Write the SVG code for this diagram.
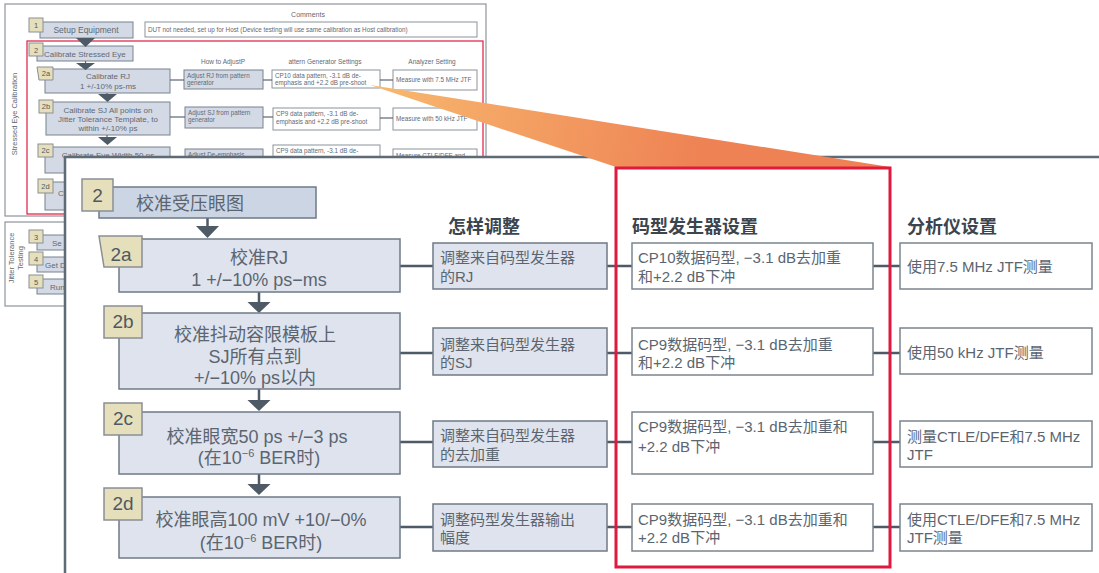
<svg xmlns="http://www.w3.org/2000/svg" width="1099" height="573" viewBox="0 0 1099 573">
<defs>
<style>
text{font-family:"Liberation Sans","Noto Sans CJK SC",sans-serif}
.tf{fill:#fff;stroke:#8e959c;stroke-width:1.2}
.tb{fill:#d3dae6;stroke:#77828d;stroke-width:1}
.tw{fill:#fff;stroke:#8a939c;stroke-width:1}
.tbd{fill:#e6dfbb;stroke:#8a8f95;stroke-width:1}
.tt{fill:#5f6973;font-size:8px}
.ts{fill:#5f6973;font-size:6.3px}
.tn{fill:#4f5963;font-size:7.5px}
.tl{stroke:#5a6671;stroke-width:1.2}
.ta{fill:#4e5a66}
.box{fill:#dfe3ed;stroke:#6f7a86;stroke-width:1.5}
.box2{fill:#ccd5e4;stroke:#6f7a86;stroke-width:1.5}
.badge{fill:#e6dfbb;stroke:#8a8f95;stroke-width:1.5}
.wbox{fill:#fff;stroke:#7b858f;stroke-width:1.5}
.mt{fill:#5b6570;font-size:18px}
.st{fill:#5b6570;font-size:15px}
.cj{font-family:"Noto Sans CJK JP","Noto Sans CJK SC",sans-serif;fill:#5b6570}
.bt{fill:#4f5963;font-size:19px}
.hdr{fill:#3c444d;font-size:18px;font-weight:bold}
.conn{stroke:#4e5a66;stroke-width:2.5;fill:none}
.arr{fill:#4e5a66}
</style>
<linearGradient id="og" gradientUnits="userSpaceOnUse" x1="370" y1="85" x2="700" y2="168">
<stop offset="0" stop-color="#f8b96f"/>
<stop offset="1" stop-color="#ee8254"/>
</linearGradient>
</defs>
<rect width="1099" height="573" fill="#fff"/>

<g id="thumbnail">
<rect class="tf" x="5" y="4" width="481" height="212"/>
<rect class="tf" x="5" y="222" width="200" height="84"/>
<text class="tt" x="308" y="17" text-anchor="middle" style="font-size:7px">Comments</text>
<text class="tt" transform="translate(17,114) rotate(-90)" text-anchor="middle" style="font-size:7.5px">Stressed Eye Calibration</text>
<text class="tt" transform="translate(14,258) rotate(-90)" text-anchor="middle" style="font-size:7.5px">Jitter Tolerance</text>
<text class="tt" transform="translate(23,258) rotate(-90)" text-anchor="middle" style="font-size:7.5px">Testing</text>
<rect x="27" y="41" width="456" height="173" fill="none" stroke="#e0193f" stroke-width="1.2"/>

<g id="t1"><rect class="tb" x="40" y="22" width="93" height="16"/><rect class="tbd" x="29" y="18" width="14" height="14"/><text class="tn" x="36" y="28" text-anchor="middle">1</text><text class="tt" x="86" y="33" text-anchor="middle" style="font-size:8.5px">Setup Equipment</text></g>
<g id="tc1"><rect class="tw" x="145" y="22" width="332" height="15"/><text class="ts" x="148" y="32">DUT not needed, set up for Host (Device testing will use same calibration as Host calibration)</text></g>
<g id="t2"><rect class="tb" x="37" y="46" width="96" height="15"/><rect class="tbd" x="29" y="43" width="14" height="13"/><text class="tn" x="36" y="52.5" text-anchor="middle">2</text><text class="tt" x="44" y="57">Calibrate Stressed Eye</text></g>
<text class="tt" x="223" y="64" text-anchor="middle" style="font-size:6.5px">How to AdjustP</text>
<text class="tt" x="325" y="64" text-anchor="middle" style="font-size:6.5px">attern Generator Settings</text>
<text class="tt" x="432" y="64" text-anchor="middle" style="font-size:6.5px">Analyzer Setting</text>

<g id="t2a"><rect class="tb" x="45" y="69" width="125" height="24"/><polygon class="tbd" points="37,67 53,67 53,80 39,80"/><text class="tn" x="46" y="76" text-anchor="middle">2a</text><text class="tt" x="108" y="79" text-anchor="middle">Calibrate RJ</text><text class="tt" x="108" y="89" text-anchor="middle">1 +/-10% ps-ms</text></g>
<g id="t2a1"><rect class="tb" x="184" y="70" width="79" height="19"/><text class="ts" x="187" y="78">Adjust RJ from pattern</text><text class="ts" x="187" y="85">generator</text></g>
<g id="t2a2"><rect class="tw" x="272" y="70" width="108" height="18"/><text class="ts" x="275" y="78">CP10 data pattern, -3.1 dB de-</text><text class="ts" x="275" y="85">emphasis and +2.2 dB pre-shoot</text></g>
<g id="t2a3"><rect class="tw" x="393" y="70" width="84" height="20"/><text class="ts" x="396" y="82">Measure with 7.5 MHz JTF</text></g>

<g id="t2b"><rect class="tb" x="46" y="102" width="124" height="33"/><rect class="tbd" x="39" y="100" width="14" height="13"/><text class="tn" x="46" y="109" text-anchor="middle">2b</text><text class="tt" x="108" y="113" text-anchor="middle">Calibrate SJ All points on</text><text class="tt" x="108" y="122" text-anchor="middle">Jitter Tolerance Template, to</text><text class="tt" x="108" y="131" text-anchor="middle">within +/-10% ps</text></g>
<g id="t2b1"><rect class="tb" x="185" y="107" width="78" height="21"/><text class="ts" x="188" y="115">Adjust SJ from pattern</text><text class="ts" x="188" y="122">generator</text></g>
<g id="t2b2"><rect class="tw" x="273" y="108" width="107" height="22"/><text class="ts" x="276" y="116">CP9 data pattern,   -3.1 dB de-</text><text class="ts" x="276" y="124">emphasis and +2.2 dB pre-shoot</text></g>
<g id="t2b3"><rect class="tw" x="393" y="108" width="84" height="22"/><text class="ts" x="396" y="121">Measure with 50 kHz JTF</text></g>

<g id="t2c"><rect class="tb" x="45" y="147" width="125" height="26"/><rect class="tbd" x="38" y="144" width="15" height="13"/><text class="tn" x="45.5" y="153" text-anchor="middle">2c</text><text class="tt" x="108" y="158" text-anchor="middle">Calibrate Eye Width 50 ps</text></g>
<g id="t2c1"><rect class="tb" x="185" y="149" width="78" height="20"/><text class="ts" x="188" y="157">Adjust De-emphasis</text></g>
<g id="t2c2"><rect class="tw" x="273" y="145" width="107" height="22"/><text class="ts" x="276" y="153">CP9 data pattern, -3.1 dB de-</text></g>
<g id="t2c3"><rect class="tw" x="393" y="149" width="84" height="20"/><text class="ts" x="396" y="158">Measure CTLE/DFE and</text></g>
<g id="t2d"><rect class="tb" x="45" y="182" width="125" height="28"/><rect class="tbd" x="38" y="179" width="15" height="14"/><text class="tn" x="45.5" y="188.5" text-anchor="middle">2d</text><text class="tt" x="58" y="196">C</text></g>

<g id="t3"><rect class="tb" x="37" y="235" width="40" height="15"/><rect class="tbd" x="29" y="230" width="14" height="13"/><text class="tn" x="36" y="239.5" text-anchor="middle">3</text><text class="tt" x="52" y="246">Se</text></g>
<g id="t4"><rect class="tb" x="37" y="257" width="40" height="15"/><rect class="tbd" x="29" y="252" width="14" height="13"/><text class="tn" x="36" y="261.5" text-anchor="middle">4</text><text class="tt" x="45" y="268">Get D</text></g>
<g id="t5"><rect class="tb" x="37" y="279" width="40" height="15"/><rect class="tbd" x="29" y="275" width="14" height="13"/><text class="tn" x="36" y="284.5" text-anchor="middle">5</text><text class="tt" x="50" y="290">Run</text></g>

<g id="tconn">
<polygon class="ta" points="76,38 95,38 85.5,47"/>
<line class="tl" x1="85.5" y1="61" x2="85.5" y2="64"/><polygon class="ta" points="76,63 95,63 85.5,70"/>
<line class="tl" x1="107" y1="93" x2="107" y2="95"/><polygon class="ta" points="98,94 117,94 107.5,102"/>
<line class="tl" x1="107" y1="135" x2="107" y2="138"/><polygon class="ta" points="98,137 117,137 107.5,145"/>
<line class="tl" x1="170" y1="80" x2="184" y2="80"/><line class="tl" x1="263" y1="80" x2="272" y2="80"/><line class="tl" x1="380" y1="80" x2="393" y2="80"/>
<line class="tl" x1="170" y1="117" x2="185" y2="117"/><line class="tl" x1="263" y1="117" x2="273" y2="117"/><line class="tl" x1="380" y1="118" x2="393" y2="118"/>
</g>
</g>

<g id="panel">
<rect x="65" y="157" width="1040" height="420" fill="#fff" stroke="#5e6a75" stroke-width="2.5"/>
</g>

<polygon id="callout" points="370,85 890,167 616,167" fill="url(#og)"/>

<g id="headers">
<text class="hdr" x="448" y="233">怎样调整</text>
<text class="hdr" x="632" y="233">码型发生器设置</text>
<text class="hdr" x="907" y="233">分析仪设置</text>
</g>

<g id="connectors">
<line class="conn" x1="207.5" y1="218" x2="207.5" y2="227"/><polygon class="arr" points="196,226 219,226 207.5,238"/>
<line class="conn" x1="259" y1="292" x2="259" y2="303"/><polygon class="arr" points="247.5,302 270.5,302 259,313"/>
<line class="conn" x1="259" y1="389" x2="259" y2="401"/><polygon class="arr" points="247.5,400 270.5,400 259,411"/>
<line class="conn" x1="259" y1="474" x2="259" y2="485"/><polygon class="arr" points="247.5,484 270.5,484 259,495"/>
<line class="conn" x1="400" y1="266" x2="433" y2="266"/><line class="conn" x1="607" y1="266" x2="632" y2="266"/><line class="conn" x1="873" y1="266" x2="900" y2="266"/>
<line class="conn" x1="400" y1="353" x2="433" y2="353"/><line class="conn" x1="607" y1="353" x2="632" y2="353"/><line class="conn" x1="873" y1="353" x2="900" y2="353"/>
<line class="conn" x1="400" y1="442" x2="433" y2="442"/><line class="conn" x1="607" y1="442" x2="632" y2="442"/><line class="conn" x1="873" y1="442" x2="900" y2="442"/>
<line class="conn" x1="400" y1="527" x2="433" y2="527"/><line class="conn" x1="607" y1="527" x2="632" y2="527"/><line class="conn" x1="873" y1="527" x2="900" y2="527"/>
</g>

<g id="n2"><rect class="box2" x="99" y="187" width="217" height="31"/><rect class="badge" x="82" y="179" width="31" height="32"/><text class="bt" x="97.5" y="202" text-anchor="middle">2</text><text class="mt" x="136" y="210">校准受压眼图</text></g>

<g id="n2a"><rect class="box" x="119" y="239" width="281" height="53"/><polygon class="badge" points="99,236 142,236 142,267 104,267"/><text class="bt" x="121" y="261" text-anchor="middle">2a</text><text class="mt" x="259" y="264" text-anchor="middle">校准RJ</text><text class="mt" x="259" y="286" text-anchor="middle">1 +/−10% ps−ms</text></g>
<g id="n2a1"><rect class="box" x="433" y="243" width="174" height="46"/><text class="st" x="440" y="263">调整来自码型发生器</text><text class="st" x="440" y="282">的RJ</text></g>
<g id="n2a2"><rect class="wbox" x="632" y="243" width="241" height="46"/><text class="st" x="638" y="263">CP10数据码型, −3.1 dB去加重</text><text class="st" x="638" y="282">和+2.2 dB下冲</text></g>
<g id="n2a3"><rect class="wbox" x="900" y="243" width="192" height="46"/><text class="st" x="907" y="272">使用7.5 MHz JTF<tspan class="cj">测量</tspan></text></g>

<g id="n2b"><rect class="box" x="119" y="313" width="281" height="76"/><rect class="badge" x="104" y="306" width="38" height="32"/><text class="bt" x="123" y="328" text-anchor="middle">2b</text><text class="mt" x="255" y="341" text-anchor="middle">校准抖动容限模板上</text><text class="mt" x="255" y="363" text-anchor="middle">SJ所有点到</text><text class="mt" x="255" y="384" text-anchor="middle">+/−10% ps以内</text></g>
<g id="n2b1"><rect class="box" x="433" y="328" width="174" height="47"/><text class="st" x="440" y="350">调整来自码型发生器</text><text class="st" x="440" y="368">的SJ</text></g>
<g id="n2b2"><rect class="wbox" x="632" y="328" width="241" height="47"/><text class="st" x="638" y="350">CP9数据码型, −3.1 dB去加重</text><text class="st" x="638" y="368">和+2.2 dB下冲</text></g>
<g id="n2b3"><rect class="wbox" x="900" y="328" width="192" height="46"/><text class="st" x="907" y="358">使用50 kHz JTF<tspan class="cj">测量</tspan></text></g>

<g id="n2c"><rect class="box" x="119" y="412" width="281" height="62"/><rect class="badge" x="104" y="403" width="38" height="32"/><text class="bt" x="123" y="425" text-anchor="middle">2c</text><text class="mt" x="257" y="443" text-anchor="middle">校准眼宽50 ps +/−3 ps</text><text class="mt" x="259" y="464" text-anchor="middle">(在10<tspan font-size="11" dy="-7">−6</tspan><tspan dy="7"> BER时)</tspan></text></g>
<g id="n2c1"><rect class="box" x="433" y="421" width="174" height="46"/><text class="st" x="440" y="441">调整来自码型发生器</text><text class="st" x="440" y="460">的去加重</text></g>
<g id="n2c2"><rect class="wbox" x="632" y="412" width="241" height="62"/><text class="st" x="638" y="432">CP9数据码型, −3.1 dB去加重和</text><text class="st" x="638" y="452">+2.2 dB下冲</text></g>
<g id="n2c3"><rect class="wbox" x="900" y="421" width="192" height="46"/><text class="st" x="907" y="442"><tspan class="cj">测量</tspan>CTLE/DFE和7.5 MHz</text><text class="st" x="907" y="460">JTF</text></g>

<g id="n2d"><rect class="box" x="119" y="497" width="281" height="61"/><rect class="badge" x="104" y="488" width="38" height="32"/><text class="bt" x="123" y="510" text-anchor="middle">2d</text><text class="mt" x="261" y="526" text-anchor="middle">校准眼高100 mV +10/−0%</text><text class="mt" x="261" y="549" text-anchor="middle">(在10<tspan font-size="11" dy="-7">−6</tspan><tspan dy="7"> BER时)</tspan></text></g>
<g id="n2d1"><rect class="box" x="433" y="504" width="174" height="47"/><text class="st" x="440" y="525">调整码型发生器输出</text><text class="st" x="440" y="543">幅度</text></g>
<g id="n2d2"><rect class="wbox" x="632" y="504" width="241" height="47"/><text class="st" x="638" y="525">CP9数据码型, −3.1 dB去加重和</text><text class="st" x="638" y="543">+2.2 dB下冲</text></g>
<g id="n2d3"><rect class="wbox" x="900" y="504" width="192" height="47"/><text class="st" x="907" y="525">使用CTLE/DFE和7.5 MHz</text><text class="st" x="907" y="543">JTF<tspan class="cj">测量</tspan></text></g>

<rect id="redbox" x="616" y="168" width="274" height="399" fill="none" stroke="#e0193f" stroke-width="3"/>
</svg>
